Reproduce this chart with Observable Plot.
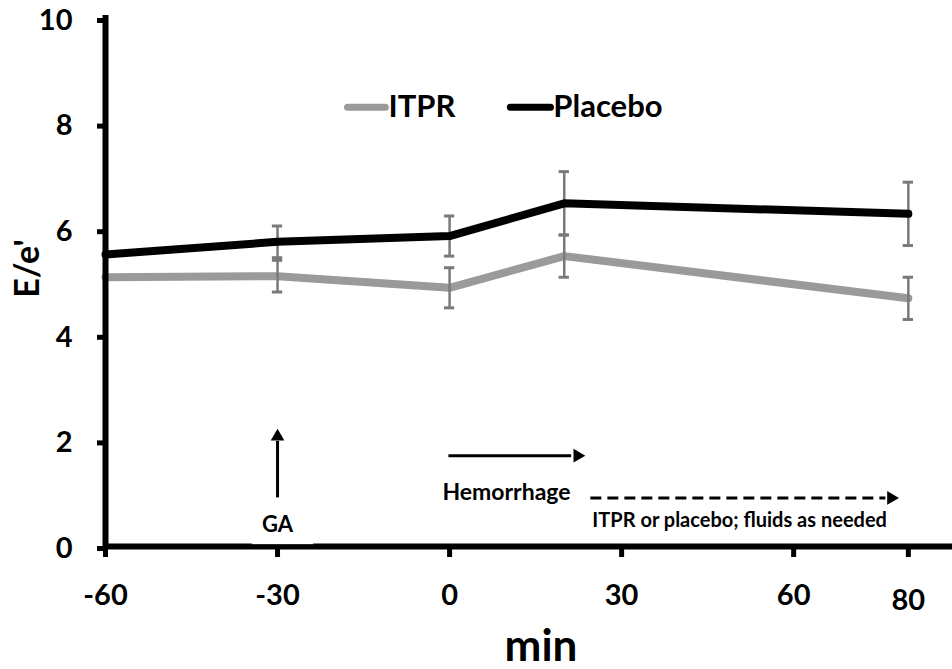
<!DOCTYPE html>
<html><head><meta charset="utf-8">
<script src="https://cdn.jsdelivr.net/npm/d3@7"></script>
<script src="https://cdn.jsdelivr.net/npm/@observablehq/plot@0.6"></script>
<style>
html,body{margin:0;padding:0;background:#fff;} svg{display:block}
g[aria-label="y-axis tick"], g[aria-label="x-axis tick"] {stroke-width:5px;}
g[aria-label="y-axis tick"] path, g[aria-label="x-axis tick"] path {stroke-width:5px;}
</style>
</head><body><div id="chart"></div>
<script>
// ---- data ----
const minutes = [-60, -30, 0, 20, 80];
const itpr = [5.1, 5.12, 4.9, 5.5, 4.7];
const placebo = [5.53, 5.77, 5.88, 6.5, 6.3];
const itprErr = [null, 0.3, 0.38, 0.4, 0.4];
const placeboErr = [null, 0.3, 0.38, 0.6, 0.6];
const seriesNames = ["ITPR", "Placebo"];
const seriesColors = ["#9a9a9a", "#000000"];
const xTicks = [-60, -30, 0, 30, 60];
const xTicksLow = [80];
const yTicks = [0, 2, 4, 6, 8, 10];

const rows = minutes.flatMap((m, i) => [
  {series: seriesNames[0], min: m, v: itpr[i], err: itprErr[i]},
  {series: seriesNames[1], min: m, v: placebo[i], err: placeboErr[i]}
]);
const bars = rows.filter(d => d.err != null);
const capHalf = 0.9;
const errColor = "#7a7a7a";
const FONT = "Lato, 'Open Sans', sans-serif";
const fmt = d => String(d);

const plot = Plot.plot({
  width: 952, height: 669,
  marginLeft: 105, marginRight: 0, marginTop: 18, marginBottom: 123,
  x: {domain: [-60, 87.7]},
  y: {domain: [0, 10]},
  style: {fontFamily: FONT, fontWeight: "bold", color: "#000", background: "#fff"},
  marks: [
    // ITPR line
    Plot.line(rows.filter(d => d.series === seriesNames[0]), {x: "min", y: "v", stroke: seriesColors[0], strokeWidth: 8, strokeLinejoin: "miter"}),
    // error bars
    Plot.ruleX(bars, {x: "min", y1: d => d.v - d.err, y2: d => d.v + d.err, stroke: errColor, strokeWidth: 2.5}),
    Plot.ruleY(bars, {y: d => d.v + d.err, x1: d => d.min - capHalf, x2: d => d.min + capHalf, stroke: errColor, strokeWidth: 3}),
    Plot.ruleY(bars, {y: d => d.v - d.err, x1: d => d.min - capHalf, x2: d => d.min + capHalf, stroke: errColor, strokeWidth: 3}),
    // Placebo line
    Plot.line(rows.filter(d => d.series === seriesNames[1]), {x: "min", y: "v", stroke: seriesColors[1], strokeWidth: 8, strokeLinejoin: "miter"}),

    // axes
    Plot.ruleY([0], {stroke: "#000", strokeWidth: 6}),
    Plot.ruleX([-60], {stroke: "#000", strokeWidth: 6, strokeLinecap: "square"}),
    Plot.axisY(yTicks, {anchor: "left", tickSize: 8, tickPadding: 25, fontSize: 29, strokeWidth: 5, tickFormat: fmt, dy: 2, label: null}),
    Plot.axisX(xTicks, {anchor: "bottom", tickSize: 11, tickPadding: 27, fontSize: 29, strokeWidth: 5, tickFormat: fmt, label: null}),
    Plot.axisX(xTicksLow, {anchor: "bottom", tickSize: 11, tickPadding: 32, fontSize: 29, strokeWidth: 5, tickFormat: fmt, label: null}),
    Plot.text(["E/e'"], {frameAnchor: "left", rotate: -90, dx: -77, dy: -14, fontSize: 34, textAnchor: "middle", lineAnchor: "middle"}),
    Plot.text(["min"], {frameAnchor: "bottom", dx: 12, dy: 100, fontSize: 44, textAnchor: "middle", lineAnchor: "middle"}),

    // GA annotation (white box overlapping the axis)
    Plot.rect([0], {x1: -34.4, x2: -23.7, y1: 0.035, y2: 0.87, fill: "#fff"}),
    Plot.link([0], {x1: -30, x2: -30, y1: 0.93, y2: 2.0, stroke: "#000", strokeWidth: 3}),
    Plot.dot([0], {x: -30, y: 2.08, symbol: "triangle2", r: 6.5, fill: "#000", stroke: null}),
    Plot.text(["GA"], {x: -30, y: 0.4, fontSize: 22, textAnchor: "middle", lineAnchor: "middle"}),

    // Hemorrhage arrow
    Plot.link([0], {x1: -0.2, x2: 21.2, y1: 1.72, y2: 1.72, stroke: "#000", strokeWidth: 3}),
    Plot.dot([0], {x: 22.3, y: 1.72, symbol: "triangle2", r: 6.5, rotate: 90, fill: "#000", stroke: null}),
    Plot.text(["Hemorrhage"], {x: -1.25, y: 1.02, fontSize: 23, textAnchor: "start", lineAnchor: "middle"}),

    // dashed treatment arrow
    Plot.link([0], {x1: 24.55, x2: 76, y1: 0.92, y2: 0.92, stroke: "#000", strokeWidth: 3, strokeDasharray: "11,6"}),
    Plot.dot([0], {x: 77.0, y: 0.92, symbol: "triangle2", r: 6.5, rotate: 90, fill: "#000", stroke: null}),
    Plot.text(["ITPR or placebo; fluids as needed"], {x: 24.9, y: 0.49, fontSize: 20, textAnchor: "start", lineAnchor: "middle"}),

    // legend
    Plot.link([0], {x1: -17.8, x2: -11.2, y1: 8.32, y2: 8.32, stroke: seriesColors[0], strokeWidth: 7, strokeLinecap: "round"}),
    Plot.text([seriesNames[0]], {x: -10.66, y: 8.32, fontSize: 31, textAnchor: "start", lineAnchor: "middle"}),
    Plot.link([0], {x1: 10.6, x2: 17.6, y1: 8.32, y2: 8.32, stroke: seriesColors[1], strokeWidth: 7, strokeLinecap: "round"}),
    Plot.text([seriesNames[1]], {x: 18.1, y: 8.32, fontSize: 31, textAnchor: "start", lineAnchor: "middle"})
  ]
});
document.getElementById("chart").appendChild(plot);
</script>
</body></html>
